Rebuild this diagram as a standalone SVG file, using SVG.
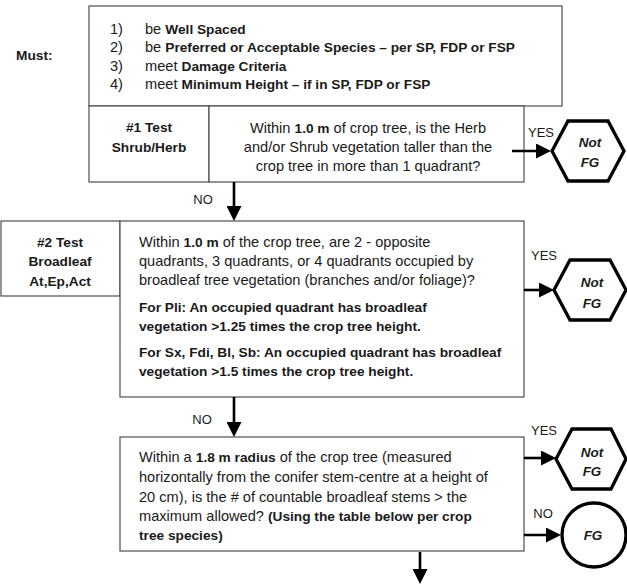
<svg xmlns="http://www.w3.org/2000/svg" width="627" height="585" viewBox="0 0 627 585">
<style>
text{font-family:"Liberation Sans",Arial,sans-serif;font-size:14.6px;fill:#1a1a1a}
.b{font-weight:bold;font-size:13.7px}
.c{text-anchor:middle}
.lbl{font-size:13px;text-anchor:middle}
.term{font-weight:bold;font-style:italic;font-size:13.5px;text-anchor:middle}
.box{fill:#fff;stroke:#4d4d4d;stroke-width:1.2}
.shape{fill:#fff;stroke:#000;stroke-width:3.3}
.arr{stroke:#000;stroke-width:2.6;fill:none;marker-end:url(#ah)}
</style>
<defs>
<marker id="ah" markerUnits="userSpaceOnUse" markerWidth="15" markerHeight="15" refX="11" refY="7.5" orient="auto">
<path d="M0,0 L15,7.5 L0,15 z" fill="#000"/>
</marker>
</defs>
<rect width="627" height="585" fill="#fff"/>

<g id="must">
<text x="16" y="60" class="b">Must:</text>
<rect class="box" x="89" y="6" width="473" height="100"/>
<text x="110" y="33.5">1)</text><text x="145" y="33.5">be <tspan class="b">Well Spaced</tspan></text>
<text x="110" y="52">2)</text><text x="145" y="52">be <tspan class="b">Preferred or Acceptable Species – per SP, FDP or FSP</tspan></text>
<text x="110" y="70.5">3)</text><text x="145" y="70.5">meet <tspan class="b">Damage Criteria</tspan></text>
<text x="110" y="89">4)</text><text x="145" y="89">meet <tspan class="b">Minimum Height – if in SP, FDP or FSP</tspan></text>
</g>

<g id="test1">
<rect class="box" x="89" y="106" width="120" height="76"/>
<rect class="box" x="209" y="106" width="315" height="76"/>
<text x="149" y="131.5" class="b c">#1 Test</text>
<text x="149" y="151.5" class="b c">Shrub/Herb</text>
<text x="368" y="132.5" class="c">Within <tspan class="b">1.0 m</tspan> of crop tree, is the Herb</text>
<text x="368" y="151.5" class="c">and/or Shrub vegetation taller than the</text>
<text x="368" y="170.5" class="c">crop tree in more than 1 quadrant?</text>
</g>

<g id="test2">
<rect class="box" x="1" y="221" width="119" height="75"/>
<text x="60" y="246.5" class="b c">#2 Test</text>
<text x="60" y="265.5" class="b c">Broadleaf</text>
<text x="60" y="285.5" class="b c">At,Ep,Act</text>
<rect class="box" x="120" y="221" width="404" height="176"/>
<text x="139" y="246.5">Within <tspan class="b">1.0 m</tspan> of the crop tree, are 2 - opposite</text>
<text x="139" y="266">quadrants, 3 quadrants, or 4 quadrants occupied by</text>
<text x="139" y="285">broadleaf tree vegetation (branches and/or foliage)?</text>
<text x="139" y="311.5" class="b">For Pli: An occupied quadrant has broadleaf</text>
<text x="139" y="330.5" class="b">vegetation &gt;1.25 times the crop tree height.</text>
<text x="139" y="356.5" class="b">For Sx, Fdi, Bl, Sb: An occupied quadrant has broadleaf</text>
<text x="139" y="376" class="b">vegetation &gt;1.5 times the crop tree height.</text>
</g>

<g id="test3">
<rect class="box" x="120" y="437" width="404" height="114"/>
<text x="139" y="461.5">Within a <tspan class="b">1.8 m radius</tspan> of the crop tree (measured</text>
<text x="139" y="481.5">horizontally from the conifer stem-centre at a height of</text>
<text x="139" y="501.5">20 cm), is the # of countable broadleaf stems &gt; the</text>
<text x="139" y="520.5">maximum allowed? <tspan class="b">(Using the table below per crop</tspan></text>
<text x="139" y="539.5" class="b">tree species)</text>
</g>

<g id="notfg1">
<polygon class="shape" points="552,151 568,121 608,121 624,151 608,181 568,181"/>
<text x="590" y="146.5" class="term">Not</text>
<text x="590" y="166.5" class="term">FG</text>
</g>
<g id="notfg2">
<polygon class="shape" points="554,290 570,260 610,260 626,290 610,320 570,320"/>
<text x="592" y="286.5" class="term">Not</text>
<text x="592" y="307.5" class="term">FG</text>
</g>
<g id="notfg3">
<polygon class="shape" points="556,459 572,429 611,429 626,459 611,489 572,489"/>
<text x="592" y="456.5" class="term">Not</text>
<text x="592" y="475.5" class="term">FG</text>
</g>
<g id="fg">
<circle class="shape" cx="594" cy="535" r="32"/>
<text x="593" y="539.5" class="term">FG</text>
</g>

<g id="connectors">
<line class="arr" x1="234" y1="182" x2="234" y2="217"/>
<line class="arr" x1="234" y1="397" x2="234" y2="433"/>
<line class="arr" x1="420" y1="552" x2="420" y2="580"/>
<line class="arr" x1="512" y1="151" x2="547" y2="151"/>
<line class="arr" x1="524" y1="290" x2="550" y2="290"/>
<line class="arr" x1="524" y1="458" x2="552" y2="458"/>
<line class="arr" x1="524" y1="535" x2="557" y2="535"/>
<text x="203" y="203.5" class="lbl">NO</text>
<text x="202" y="423.5" class="lbl">NO</text>
<text x="541" y="136.5" class="lbl">YES</text>
<text x="544" y="259.5" class="lbl">YES</text>
<text x="544" y="434.5" class="lbl">YES</text>
<text x="543" y="517.5" class="lbl">NO</text>
</g>
</svg>
